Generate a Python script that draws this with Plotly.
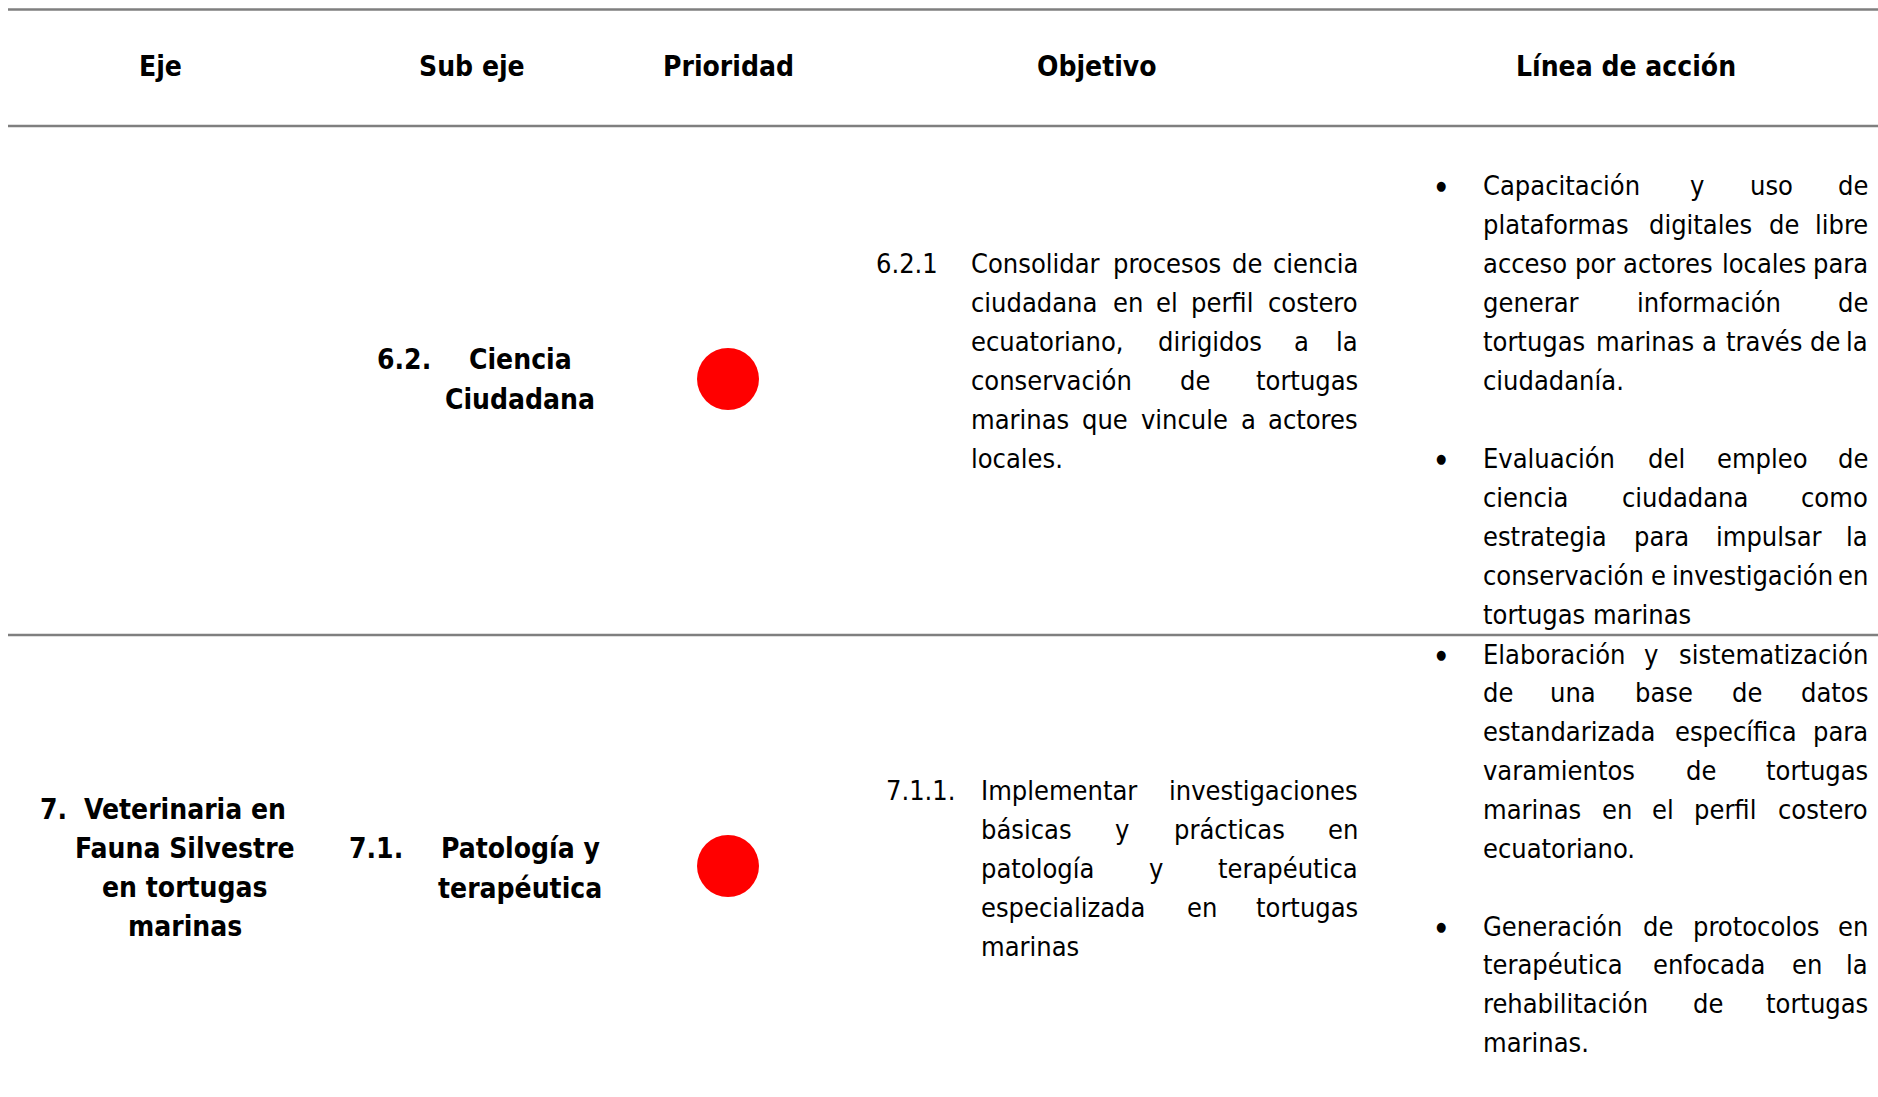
import unicodedata
import plotly.graph_objects as go

# ---------------- data ----------------
headers = ["Eje", "Sub eje", "Prioridad", "Objetivo", "Línea de acción"]

eje_num = ["", "7."]
eje_text = [[], ["Veterinaria en", "Fauna Silvestre", "en tortugas", "marinas"]]

sub_num = ["6.2.", "7.1."]
sub_text = [["Ciencia", "Ciudadana"], ["Patología y", "terapéutica"]]

prioridad = ["Alta", "Alta"]
prioridad_color = {"Alta": "#ff0000"}

obj_num = ["6.2.1", "7.1.1."]
obj_lines = [
    ["Consolidar procesos de ciencia",
     "ciudadana en el perfil costero",
     "ecuatoriano, dirigidos a la",
     "conservación de tortugas",
     "marinas que vincule a actores",
     "locales."],
    ["Implementar investigaciones",
     "básicas y prácticas en",
     "patología y terapéutica",
     "especializada en tortugas",
     "marinas"],
]

accion_lines = [
    [["Capacitación y uso de",
      "plataformas digitales de libre",
      "acceso por actores locales para",
      "generar información de",
      "tortugas marinas a través de la",
      "ciudadanía."],
     ["Evaluación del empleo de",
      "ciencia ciudadana como",
      "estrategia para impulsar la",
      "conservación e investigación en",
      "tortugas marinas"]],
    [["Elaboración y sistematización",
      "de una base de datos",
      "estandarizada específica para",
      "varamientos de tortugas",
      "marinas en el perfil costero",
      "ecuatoriano."],
     ["Generación de protocolos en",
      "terapéutica enfocada en la",
      "rehabilitación de tortugas",
      "marinas."]],
]

# ---------------- layout constants ----------------
W, H = 1878, 1097
FONT = "DejaVu Sans Condensed, DejaVu Sans, sans-serif"
FS = 27       # body text
FSB = 28      # bold text
LS = 38.9
hline_y = [9.6, 126, 635]
header_y = 66
header_x = [160, 472, 728, 1097, 1626]
row_center = [379, 866]

eje_num_x, eje_center_x = 38, 185
eje_y0 = [0, 809.6]
sub_num_x = [375, 347]
sub_center_x = 520
sub_y0 = [359, 848]
prio_x = 728
obj_num_x = [874, 883.5]
obj_left = [969, 979]
obj_right = 1360
obj_y0 = [263.5, 790.5]
bullet_x = 1441
acc_left, acc_right = 1481, 1870
acc_y0 = [[185.6, 458.7], [654, 926]]

# approximate DejaVu Sans advance widths (em), condensed factor applied
CW = {' ': .318, 'a': .613, 'b': .635, 'c': .550, 'd': .635, 'e': .615, 'f': .352,
      'g': .635, 'h': .634, 'i': .278, 'j': .278, 'k': .579, 'l': .278, 'm': .974,
      'n': .634, 'o': .612, 'p': .635, 'q': .635, 'r': .411, 's': .521, 't': .392,
      'u': .634, 'v': .592, 'w': .818, 'x': .592, 'y': .592, 'z': .525, ',': .318,
      '.': .318, 'C': .698, 'E': .632, 'G': .775, 'I': .295}
COND = 0.935


def text_w(s):
    w = 0
    for ch in s:
        base = unicodedata.normalize("NFD", ch)[0]
        w += CW.get(base, .6)
    return w * COND * FS


annotations = []


def add_text(x, y, s, anchor="left", bold=False, size=None):
    annotations.append(dict(
        x=x, y=y, xref="x", yref="y", text=f"<b>{s}</b>" if bold else s,
        showarrow=False, xanchor=anchor, yanchor="middle",
        font=dict(family=FONT, size=size or (FSB if bold else FS), color="#000000")))


def add_paragraph(lines, left, right, y0):
    for k, line in enumerate(lines):
        y = y0 + k * LS
        words = line.split(" ")
        if k == len(lines) - 1 or len(words) == 1:
            add_text(left, y, line, "left")
            continue
        widths = [text_w(w) for w in words]
        gap = (right - left - sum(widths)) / (len(words) - 1)
        pos = left
        for i, (wd, wid) in enumerate(zip(words, widths)):
            if i == 0:
                add_text(left, y, wd, "left")
            elif i == len(words) - 1:
                add_text(right, y, wd, "right")
            else:
                add_text(pos + wid / 2, y, wd, "center")
            pos += wid + gap


# headers
for hx, ht in zip(header_x, headers):
    add_text(hx, header_y, ht, "center", bold=True)

for r in range(2):
    # eje
    if eje_num[r]:
        add_text(eje_num_x, eje_y0[r], eje_num[r], "left", bold=True)
    for k, t in enumerate(eje_text[r]):
        add_text(eje_center_x, eje_y0[r] + k * LS, t, "center", bold=True)
    # sub eje
    add_text(sub_num_x[r], sub_y0[r], sub_num[r], "left", bold=True)
    for k, t in enumerate(sub_text[r]):
        add_text(sub_center_x, sub_y0[r] + k * 40, t, "center", bold=True)
    # objetivo
    add_text(obj_num_x[r], obj_y0[r], obj_num[r], "left")
    add_paragraph(obj_lines[r], obj_left[r], obj_right, obj_y0[r])
    # linea de accion
    for b, para in enumerate(accion_lines[r]):
        add_text(bullet_x, acc_y0[r][b], "●", "center", size=13)
        add_paragraph(para, acc_left, acc_right, acc_y0[r][b])

fig = go.Figure()
fig.add_trace(go.Scatter(
    x=[prio_x] * len(prioridad), y=row_center, mode="markers",
    marker=dict(size=62, color=[prioridad_color[p] for p in prioridad],
                line=dict(width=0)),
    hoverinfo="skip", showlegend=False))

shapes = [dict(type="line", xref="x", yref="y", x0=8, x1=W, y0=yy, y1=yy,
               line=dict(color="#7f7f7f", width=2.5)) for yy in hline_y]

fig.update_layout(
    width=W, height=H, margin=dict(l=0, r=0, t=0, b=0),
    paper_bgcolor="white", plot_bgcolor="white",
    xaxis=dict(range=[0, W], visible=False, fixedrange=True),
    yaxis=dict(range=[H, 0], visible=False, fixedrange=True),
    shapes=shapes, annotations=annotations, showlegend=False)

fig.write_html("out.html", config={"displayModeBar": False},
               post_script="document.body.style.margin='0';document.body.style.overflow='hidden';")
